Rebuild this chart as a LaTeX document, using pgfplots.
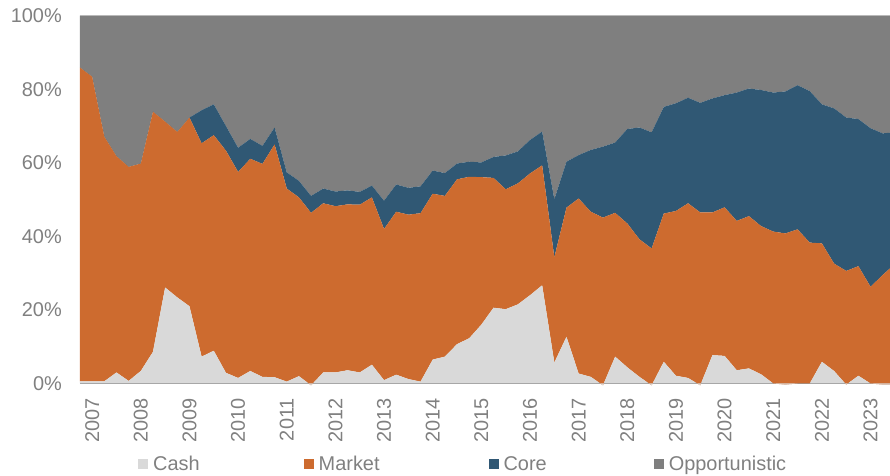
\documentclass[border=0pt]{standalone}
\usepackage{pgfplots}
\pgfplotsset{compat=1.18}
\usepackage{pgfplotstable}
\usepackage{fontspec}
\setmainfont{Liberation Sans}

\definecolor{cashc}{HTML}{D9D9D9}
\definecolor{marketc}{HTML}{CD6B2F}
\definecolor{corec}{HTML}{305874}
\definecolor{oppc}{HTML}{7F7F7F}
\definecolor{txtc}{HTML}{808080}

% quarterly allocation, x = quarter index (1 = 2007)
\pgfplotstableread{
x  cash  market core  opp
0   0.6  85.3   0.0  14.1
1   0.6  82.8   0.0  16.6
2   0.6  66.5   0.0  32.9
3   3.0  58.8   0.0  38.2
4   0.7  58.2   0.0  41.1
5   3.4  56.4   0.0  40.2
6   8.6  65.3   0.0  26.1
7  26.1  45.1   0.0  28.8
8  23.4  45.0   0.0  31.6
9  21.0  51.3   0.0  27.7
10  7.3  58.0   9.0  25.7
11  8.9  58.6   8.4  24.1
12  2.9  60.4   6.7  30.0
13  1.5  56.0   6.6  35.9
14  3.4  57.7   5.4  33.5
15  1.8  57.9   4.9  35.4
16  1.7  63.3   4.6  30.4
17  0.5  52.5   4.4  42.6
18  2.0  48.6   4.5  44.9
19 -0.5  46.9   4.6  49.0
20  3.0  46.0   4.0  47.0
21  3.0  45.2   4.0  47.8
22  3.6  45.1   3.8  47.5
23  3.0  45.6   3.5  47.9
24  5.1  45.5   3.2  46.2
25  0.9  41.1   7.7  50.3
26  2.4  44.3   7.4  45.9
27  1.2  44.7   7.3  46.8
28  0.5  45.8   7.3  46.4
29  6.5  45.1   6.3  42.1
30  7.3  43.7   6.2  42.8
31 10.7  44.8   4.3  40.2
32 12.3  43.9   4.1  39.7
33 16.0  40.1   4.0  39.9
34 20.6  35.3   5.7  38.4
35 20.2  32.6   9.2  38.0
36 21.5  32.9   8.7  36.9
37 24.0  33.1   9.1  33.8
38 26.7  32.6   9.2  31.5
39  5.7  28.6  15.8  49.9
40 12.7  35.1  12.5  39.7
41  2.7  47.6  11.8  37.9
42  1.8  44.9  16.8  36.5
43 -0.5  45.6  19.3  35.6
44  7.3  39.1  19.1  34.5
45  4.4  39.1  25.7  30.8
46  1.8  37.4  30.4  30.4
47 -0.5  37.2  31.6  31.7
48  5.9  40.3  29.0  24.8
49  2.1  44.8  29.3  23.8
50  1.5  47.5  28.7  22.3
51 -0.5  47.0  29.8  23.7
52  7.7  38.8  31.0  22.5
53  7.5  40.4  30.5  21.6
54  3.6  40.6  34.9  20.9
55  4.1  41.4  34.7  19.8
56  2.5  40.3  37.0  20.2
57  0.0  41.3  37.8  20.9
58 -0.3  41.1  38.6  20.6
59  0.0  41.9  39.2  18.9
60  0.0  38.3  41.2  20.5
61  5.9  32.2  37.8  24.1
62  3.4  29.2  42.2  25.2
63 -0.3  30.9  41.7  27.7
64  2.1  29.8  40.0  28.1
65  0.0  26.3  43.1  30.6
66 -0.3  29.8  38.5  32.0
67 -0.3  32.8  35.8  31.7
}\alloc

\begin{document}
\begin{tikzpicture}
\begin{axis}[
    width=810bp, height=373.3bp, scale only axis,
    xmin=0, xmax=66.6, ymin=-1.5, ymax=100,
    stack plots=y,
    axis line style={draw=none},
    tick style={draw=none},
    xtick={1,5,...,65},
    xticklabels={2007,2008,2009,2010,2011,2012,2013,2014,2015,2016,2017,2018,2019,2020,2021,2022,2023},
    ytick={0,20,...,100},
    yticklabels={0\%,20\%,40\%,60\%,80\%,100\%},
    tick label style={font=\fontsize{20}{24}\selectfont, text=txtc, inner sep=0pt},
    x tick label style={rotate=90, anchor=east},
    xticklabel shift=9bp,
    yticklabel shift=18bp,
    legend columns=4,
    legend image code/.code={\fill[#1] (0bp,-5bp) rectangle (10bp,5bp);},
    legend style={at={(axis description cs:0,0)}, anchor=west,
        xshift=58bp, yshift=-75bp, draw=none, fill=none, inner sep=0pt,
        font=\fontsize{20}{24}\selectfont, text=txtc,
        nodes={inner sep=0pt},
        /tikz/every odd column/.append style={column sep=5bp},
        /tikz/column 2/.append style={column sep=104bp},
        /tikz/column 4/.append style={column sep=109bp},
        /tikz/column 6/.append style={column sep=107bp}},
]
\addplot[fill=cashc, draw=none] table[x=x, y=cash] {\alloc} \closedcycle;
\addplot[fill=marketc, draw=none] table[x=x, y=market] {\alloc} \closedcycle;
\addplot[fill=corec, draw=none] table[x=x, y=core] {\alloc} \closedcycle;
\addplot[fill=oppc, draw=none] table[x=x, y=opp] {\alloc} \closedcycle;
\legend{Cash,Market,Core,Opportunistic}
\draw[cashc, line width=1bp] (axis cs:0,100) -- (axis cs:66.6,100);
\draw[black!45, line width=2bp] (axis cs:0,0) -- (axis cs:66.6,0);
\end{axis}
\pgfresetboundingbox
\path[use as bounding box] ([xshift=-80bp,yshift=-87bp]current axis.south west)
    rectangle ([yshift=15.7bp]current axis.north east);
\end{tikzpicture}
\end{document}
